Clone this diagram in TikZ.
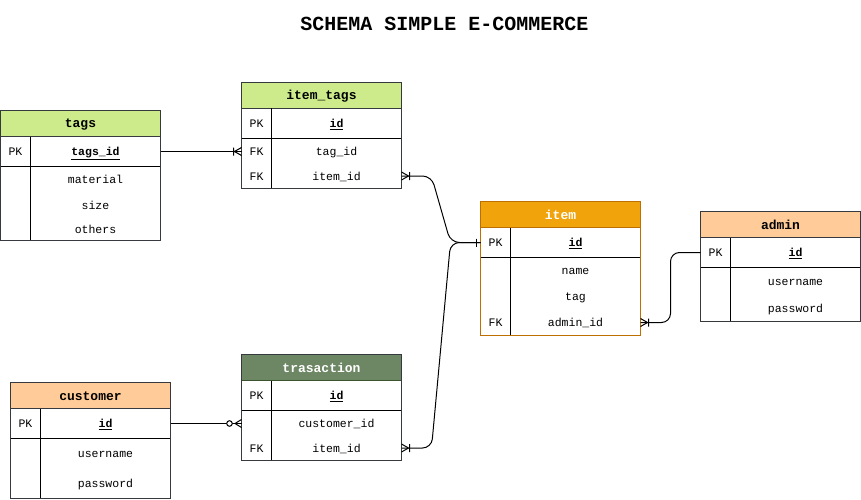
\documentclass[tikz,border=0pt]{standalone}
\usepackage{fontspec}
\setmainfont{Liberation Mono}
\usetikzlibrary{positioning, decorations.markings}

\definecolor{tagsgreen}{HTML}{CDEB8B}
\definecolor{itemorange}{HTML}{F0A30A}
\definecolor{itemline}{HTML}{BD7000}
\definecolor{peach}{HTML}{FFCC99}
\definecolor{olive}{HTML}{6D8764}
\definecolor{oliveline}{HTML}{3A5431}
\definecolor{frame}{HTML}{36393D}

\tikzset{
  head/.style={draw=frame, minimum width=160pt, minimum height=26pt, inner sep=0pt, outer sep=0pt,
    text height=11pt, text depth=2pt, font=\fontsize{13}{15}\selectfont\bfseries},
  keycell/.style={minimum width=30pt, minimum height=#1, inner sep=0pt, outer sep=0pt, anchor=north west,
    text height=10pt, text depth=2pt, font=\fontsize{11.5}{13}\selectfont},
  keycell/.default=30pt,
  fieldcell/.style={minimum width=130pt, minimum height=#1, inner sep=0pt, outer sep=0pt,
    text height=10pt, text depth=2pt, font=\fontsize{11.5}{13}\selectfont},
  fieldcell/.default=30pt,
  grid/.style={draw=black},
  rel/.style={draw=black, rounded corners=9pt},
  one start/.style={postaction={decorate, decoration={markings, mark=at position 0 with
    {\draw[rounded corners=0pt] (4pt,-4pt) -- (4pt,4pt);}}}},
  one many/.style={postaction={decorate, decoration={markings, mark=at position 1 with
    {\draw[rounded corners=0pt] (-7pt,0) -- (0,4pt) (-7pt,0) -- (0,-4pt) (-8pt,-4pt) -- (-8pt,4pt);}}}},
  zero many/.style={postaction={decorate, decoration={markings, mark=at position 1 with
    {\draw[rounded corners=0pt] (-6.5pt,0) -- (0,4pt) (-6.5pt,0) -- (0,-4pt);
     \draw[fill=white] (-12pt,0) circle (2.8pt);}}}}
}

\begin{document}
\begin{tikzpicture}[x=1pt, y=-1pt, line width=1pt]
  \useasboundingbox (0,0) rectangle (861,500);

  \node[font=\fontsize{20}{24}\selectfont\bfseries] (title) at (444.5,24) {SCHEMA SIMPLE E-COMMERCE};

  % tags
  \node[head, fill=tagsgreen] (tags) at (80.5,123.5) {tags};
  \node[keycell] (tagsk0) at (tags.south west) {PK};
  \node[fieldcell, right=0pt of tagsk0] (tagsf0) {\underline{\textbf{tags\_id}}};
  \node[keycell=26pt, below=0pt of tagsk0] (tagsk1) {};
  \node[fieldcell=26pt, right=0pt of tagsk1] (tagsf1) {material};
  \node[keycell=26pt, below=0pt of tagsk1] (tagsk2) {};
  \node[fieldcell=26pt, right=0pt of tagsk2] (tagsf2) {size};
  \node[keycell=21.5pt, below=0pt of tagsk2] (tagsk3) {};
  \node[fieldcell=21.5pt, right=0pt of tagsk3] (tagsf3) {others};
  \draw[grid] (tagsk0.south west) -- (tagsf0.south east) (tagsk0.north east) -- (tagsk3.south east);
  \draw[frame] (tags.north west) rectangle (tagsf3.south east);

  % item_tags
  \node[head, fill=tagsgreen] (itag) at (321.5,95.5) {item\_tags};
  \node[keycell] (itagk0) at (itag.south west) {PK};
  \node[fieldcell, right=0pt of itagk0] (itagf0) {\underline{\textbf{id}}};
  \node[keycell=25pt, below=0pt of itagk0] (itagk1) {FK};
  \node[fieldcell=25pt, right=0pt of itagk1] (itagf1) {tag\_id};
  \node[keycell=25pt, below=0pt of itagk1] (itagk2) {FK};
  \node[fieldcell=25pt, right=0pt of itagk2] (itagf2) {item\_id};
  \draw[grid] (itagk0.south west) -- (itagf0.south east) (itagk0.north east) -- (itagk2.south east);
  \draw[frame] (itag.north west) rectangle (itagf2.south east);

  % item
  \node[head, fill=itemorange, draw=itemline, text=white] (item) at (560.5,214.5) {item};
  \node[keycell] (itemk0) at (item.south west) {PK};
  \node[fieldcell, right=0pt of itemk0] (itemf0) {\underline{\textbf{id}}};
  \node[keycell=26pt, below=0pt of itemk0] (itemk1) {};
  \node[fieldcell=26pt, right=0pt of itemk1] (itemf1) {name};
  \node[keycell=26pt, below=0pt of itemk1] (itemk2) {};
  \node[fieldcell=26pt, right=0pt of itemk2] (itemf2) {tag};
  \node[keycell=26pt, below=0pt of itemk2] (itemk3) {FK};
  \node[fieldcell=26pt, right=0pt of itemk3] (itemf3) {admin\_id};
  \draw[grid] (itemk0.south west) -- (itemf0.south east) (itemk0.north east) -- (itemk3.south east);
  \draw[itemline] (item.north west) rectangle (itemf3.south east);

  % admin
  \node[head, fill=peach] (admin) at (780.5,224.5) {admin};
  \node[keycell] (admk0) at (admin.south west) {PK};
  \node[fieldcell, right=0pt of admk0] (admf0) {\underline{\textbf{id}}};
  \node[keycell=27pt, below=0pt of admk0] (admk1) {};
  \node[fieldcell=27pt, right=0pt of admk1] (admf1) {username};
  \node[keycell=27pt, below=0pt of admk1] (admk2) {};
  \node[fieldcell=27pt, right=0pt of admk2] (admf2) {password};
  \draw[grid] (admk0.south west) -- (admf0.south east) (admk0.north east) -- (admk2.south east);
  \draw[frame] (admin.north west) rectangle (admf2.south east);

  % customer
  \node[head, fill=peach] (cust) at (90.5,395.5) {customer};
  \node[keycell] (custk0) at (cust.south west) {PK};
  \node[fieldcell, right=0pt of custk0] (custf0) {\underline{\textbf{id}}};
  \node[keycell=30pt, below=0pt of custk0] (custk1) {};
  \node[fieldcell=30pt, right=0pt of custk1] (custf1) {username};
  \node[keycell=30pt, below=0pt of custk1] (custk2) {};
  \node[fieldcell=30pt, right=0pt of custk2] (custf2) {password};
  \draw[grid] (custk0.south west) -- (custf0.south east) (custk0.north east) -- (custk2.south east);
  \draw[frame] (cust.north west) rectangle (custf2.south east);

  % trasaction
  \node[head, fill=olive, draw=oliveline, text=white] (trans) at (321.5,367.5) {trasaction};
  \node[keycell] (transk0) at (trans.south west) {PK};
  \node[fieldcell, right=0pt of transk0] (transf0) {\underline{\textbf{id}}};
  \node[keycell=25pt, below=0pt of transk0] (transk1) {};
  \node[fieldcell=25pt, right=0pt of transk1] (transf1) {customer\_id};
  \node[keycell=25pt, below=0pt of transk1] (transk2) {FK};
  \node[fieldcell=25pt, right=0pt of transk2] (transf2) {item\_id};
  \draw[grid] (transk0.south west) -- (transf0.south east) (transk0.north east) -- (transk2.south east);
  \draw[frame] (trans.north west) rectangle (transf2.south east);

  % relations
  \draw[rel, one many] (tagsf0.east) -- (tagsf0.east -| itagk1.west);
  \draw[rel, one start, one many] (itemk0.west) -- ([xshift=-30pt]itemk0.west)
    -- ([xshift=30pt]itagf2.east) -- (itagf2.east);
  \draw[rel, one start, one many] (itemk0.west) -- ([xshift=-30pt]itemk0.west)
    -- ([xshift=30pt]transf2.east) -- (transf2.east);
  \draw[rel, one many] (admk0.west) -- ([xshift=-30pt]admk0.west) |- (itemf3.east);
  \draw[rel, zero many] (custf0.east) -- (custf0.east -| transk1.west);
\end{tikzpicture}
\end{document}
